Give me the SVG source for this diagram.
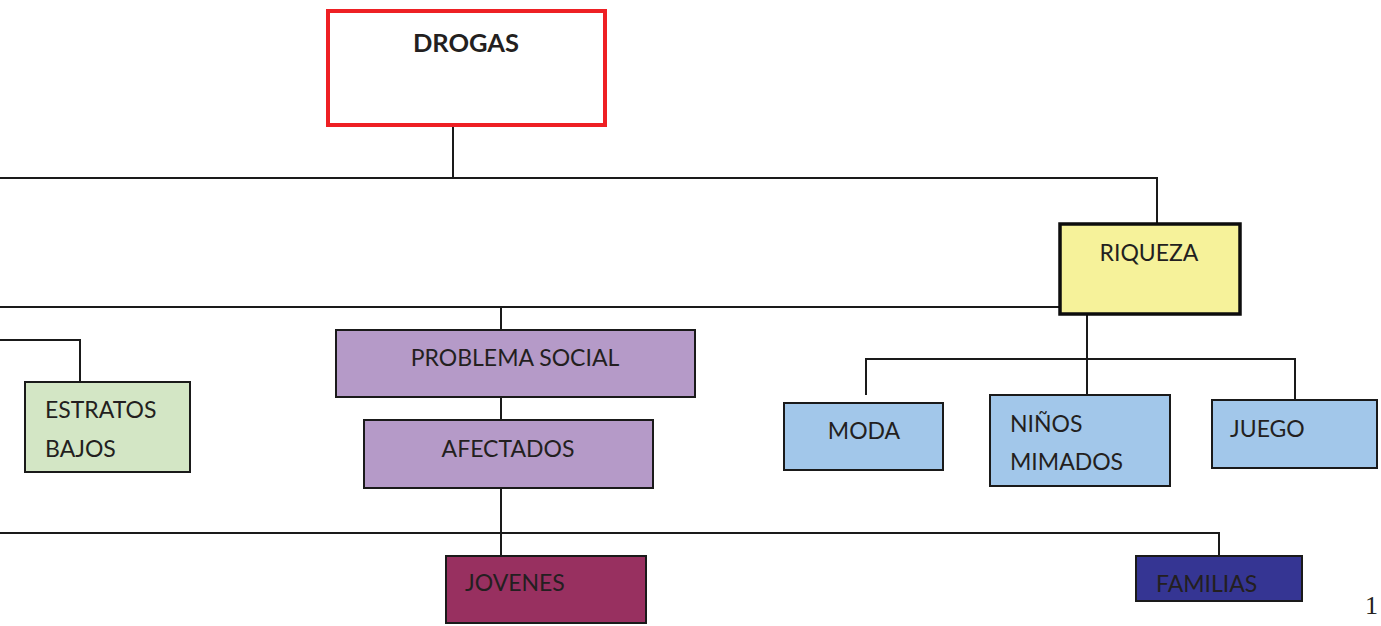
<svg xmlns="http://www.w3.org/2000/svg" width="1381" height="626" viewBox="0 0 1381 626">
<style>
.box{stroke:#1a1a1a;stroke-width:2}
.t{font-family:Lato,"Open Sans","Liberation Sans",sans-serif;font-size:23px;fill:#231f20}
.b{font-weight:bold;font-size:25.5px}
.c{text-anchor:middle}
.ln{fill:none;stroke:#1a1a1a;stroke-width:2}
</style>
<rect width="1381" height="626" fill="#ffffff"/>
<g id="connectors">
<path class="ln" d="M453 125V178M0 178H1157V223"/>
<path class="ln" d="M0 307H1060M501 307V330"/>
<path class="ln" d="M0 340H80V382"/>
<path class="ln" d="M501 397V420M501 488V556"/>
<path class="ln" d="M0 533H1219V556"/>
<path class="ln" d="M1087 314V404M866 395V359H1295V404"/>
</g>
<g id="drogas">
<rect x="328" y="11" width="277" height="114" fill="#ffffff" stroke="#ee2024" stroke-width="4"/>
<text class="t b c" x="466" y="52">DROGAS</text>
</g>
<g id="riqueza">
<rect x="1060" y="224" width="180" height="90" fill="#f6f29a" stroke="#0d0d0d" stroke-width="3.5"/>
<text class="t c" x="1149" y="261">RIQUEZA</text>
</g>
<g id="estratos">
<rect class="box" x="25" y="382" width="165" height="90" fill="#d3e6c5"/>
<text class="t" x="45" y="418">ESTRATOS</text>
<text class="t" x="45" y="457">BAJOS</text>
</g>
<g id="problema">
<rect class="box" x="336" y="330" width="359" height="67" fill="#b59ac8"/>
<text class="t c" x="515" y="366">PROBLEMA SOCIAL</text>
</g>
<g id="afectados">
<rect class="box" x="364" y="420" width="289" height="68" fill="#b59ac8"/>
<text class="t c" x="508" y="457">AFECTADOS</text>
</g>
<g id="jovenes">
<rect class="box" x="446" y="556" width="200" height="67" fill="#983060"/>
<text class="t" x="465" y="591">JOVENES</text>
</g>
<g id="familias">
<rect class="box" x="1136" y="556" width="166" height="45" fill="#353593"/>
<text class="t" x="1156" y="592">FAMILIAS</text>
</g>
<g id="moda">
<rect class="box" x="784" y="403" width="159" height="67" fill="#a2c7ea"/>
<text class="t c" x="864" y="439">MODA</text>
</g>
<g id="ninos">
<rect class="box" x="990" y="395" width="180" height="91" fill="#a2c7ea"/>
<text class="t" x="1010" y="432">NIÑOS</text>
<text class="t" x="1010" y="470">MIMADOS</text>
</g>
<g id="juego">
<rect class="box" x="1212" y="400" width="165" height="68" fill="#a2c7ea"/>
<text class="t" x="1230" y="437">JUEGO</text>
</g>
<text x="1365" y="614" font-family="'Liberation Serif',serif" font-size="26" fill="#231f20">1</text>
</svg>
